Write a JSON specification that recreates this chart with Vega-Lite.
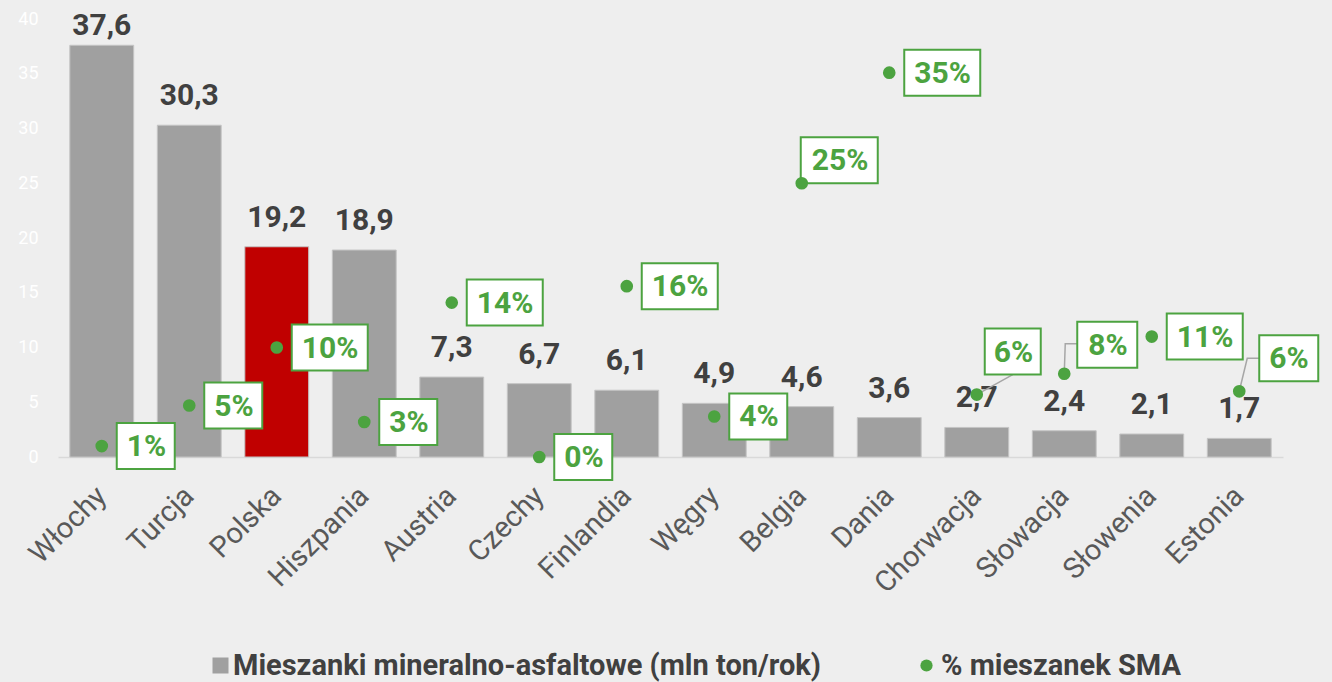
{
  "$schema": "https://vega.github.io/schema/vega-lite/v6.json",
  "width": 1225,
  "height": 438,
  "autosize": {"type": "none"},
  "padding": {"left": 58, "top": 19, "right": 49, "bottom": 225},
  "background": "#eeeeee",
  "config": {
    "view": {"stroke": null},
    "font": "Roboto",
    "locale": {"number": {"decimal": ",", "thousands": " ", "grouping": [3], "currency": ["", " zł"]}}
  },
  "data": {
    "values": [
      {"kraj": "Włochy", "mln": 37.6, "pct": 0.01},
      {"kraj": "Turcja", "mln": 30.3, "pct": 0.047},
      {"kraj": "Polska", "mln": 19.2, "pct": 0.10},
      {"kraj": "Hiszpania", "mln": 18.9, "pct": 0.032},
      {"kraj": "Austria", "mln": 7.3, "pct": 0.141},
      {"kraj": "Czechy", "mln": 6.7, "pct": 0.0},
      {"kraj": "Finlandia", "mln": 6.1, "pct": 0.156},
      {"kraj": "Węgry", "mln": 4.9, "pct": 0.037},
      {"kraj": "Belgia", "mln": 4.6, "pct": 0.25},
      {"kraj": "Dania", "mln": 3.6, "pct": 0.351},
      {"kraj": "Chorwacja", "mln": 2.7, "pct": 0.057},
      {"kraj": "Słowacja", "mln": 2.4, "pct": 0.076},
      {"kraj": "Słowenia", "mln": 2.1, "pct": 0.11},
      {"kraj": "Estonia", "mln": 1.7, "pct": 0.06}
    ]
  },
  "resolve": {"scale": {"y": "independent"}},
  "layer": [
    {
      "encoding": {
        "x": {
          "field": "kraj", "type": "nominal", "sort": null,
          "scale": {"paddingInner": 0.27, "paddingOuter": 0.135},
          "axis": {
            "title": null, "labelAngle": -45, "labelFontSize": 29, "labelColor": "#595959",
            "labelFont": "Roboto", "ticks": false, "domainColor": "#d9d9d9", "domainWidth": 1.5,
            "labelPadding": 24, "labelOffset": -10
          }
        },
        "y": {
          "field": "mln", "type": "quantitative",
          "scale": {"domain": [0, 40]},
          "axis": {
            "title": null, "grid": false, "domain": false, "ticks": false,
            "labelColor": "#ffffff", "labelFontSize": 18, "labelPadding": 20,
            "values": [0, 5, 10, 15, 20, 25, 30, 35, 40]
          }
        }
      },
      "layer": [
        {
          "mark": {"type": "bar", "stroke": "#c4c4c4", "strokeWidth": 1},
          "encoding": {
            "fill": {
              "datum": "Mieszanki mineralno-asfaltowe (mln ton/rok)",
              "condition": {"test": "datum.kraj === 'Polska'", "value": "#C00000"},
              "scale": {
                "domain": ["Mieszanki mineralno-asfaltowe (mln ton/rok)"],
                "range": ["#A0A0A0"]
              },
              "legend": {
                "title": null, "orient": "none", "legendX": 148, "legendY": 632,
                "direction": "horizontal", "labelFontSize": 29, "labelFont": "Roboto",
                "labelFontWeight": "bold", "labelColor": "#404040", "labelLimit": 1000,
                "padding": 0, "labelOffset": -2, "symbolOpacity": 1,
                "symbolType": "square", "symbolSize": 256, "symbolStrokeWidth": 0
              }
            }
          }
        },
        {
          "transform": [{"filter": "datum.kraj !== 'Włochy'"}],
          "mark": {"type": "text", "fontSize": 30, "fontWeight": "bold", "color": "#404040", "baseline": "alphabetic", "dy": -20},
          "encoding": {"text": {"field": "mln", "type": "quantitative", "format": ".1f"}}
        },
        {
          "transform": [{"filter": "datum.kraj === 'Włochy'"}],
          "mark": {"type": "text", "fontSize": 30, "fontWeight": "bold", "color": "#404040", "baseline": "alphabetic", "dy": -10},
          "encoding": {"text": {"field": "mln", "type": "quantitative", "format": ".1f"}}
        }
      ]
    },
    {
      "resolve": {"scale": {"shape": "independent"}},
      "encoding": {
        "x": {"field": "kraj", "type": "nominal", "sort": null},
        "y": {
          "field": "pct", "type": "quantitative",
          "scale": {"domain": [0, 0.4]},
          "axis": null
        }
      },
      "layer": [
        {
          "transform": [{"filter": {"field": "kraj", "oneOf": ["Chorwacja", "Słowacja", "Estonia"]}}],
          "mark": {"type": "point", "filled": false, "stroke": "#A6A6A6", "strokeWidth": 1.5, "size": 4, "opacity": 1},
          "encoding": {
            "shape": {
              "field": "kraj", "type": "nominal", "legend": null,
              "scale": {
                "domain": ["Chorwacja", "Słowacja", "Estonia"],
                "range": ["M0,0L36,-20", "M0,0L1,-30L13,-30", "M0,0L8,-33L20,-33"]
              }
            }
          }
        },
        {
          "mark": {"type": "point", "filled": true, "fill": "#ffffff", "stroke": "#4CA340", "strokeWidth": 2, "size": 4, "opacity": 1},
          "encoding": {
            "shape": {
              "field": "kraj", "type": "nominal", "legend": null,
              "scale": {
                "domain": ["Włochy", "Turcja", "Polska", "Hiszpania", "Austria", "Czechy", "Finlandia", "Węgry", "Belgia", "Dania", "Chorwacja", "Słowacja", "Słowenia", "Estonia"],
                "range": [
                  "M15,-23H73V23H15Z",
                  "M15,-23H73V23H15Z",
                  "M15,-23H91V23H15Z",
                  "M15,-23H73V23H15Z",
                  "M15,-23H91V23H15Z",
                  "M15,-23H73V23H15Z",
                  "M15,-23H91V23H15Z",
                  "M15,-23H73V23H15Z",
                  "M-1,-46H76V0H-1Z",
                  "M15,-23H91V23H15Z",
                  "M8,-66H64V-20H8Z",
                  "M13,-52H73V-6H13Z",
                  "M15,-23H91V23H15Z",
                  "M20,-56H79V-10H20Z"
                ]
              }
            }
          }
        },
        {
          "mark": {"type": "point", "filled": true, "size": 160, "opacity": 1},
          "encoding": {
            "color": {
              "datum": "% mieszanek SMA",
              "scale": {"domain": ["% mieszanek SMA"], "range": ["#4CA340"]},
              "legend": {
                "title": null, "orient": "none", "legendX": 854, "legendY": 632,
                "direction": "horizontal", "labelFontSize": 29, "labelFont": "Roboto",
                "labelFontWeight": "bold", "labelColor": "#404040", "labelLimit": 1000,
                "padding": 0, "labelOffset": 0, "symbolOpacity": 1,
                "symbolType": "circle", "symbolSize": 150, "symbolStrokeWidth": 0
              }
            }
          }
        },
        {
          "transform": [{"filter": {"not": {"field": "kraj", "oneOf": ["Belgia", "Chorwacja", "Słowacja", "Estonia"]}}}],
          "mark": {"type": "text", "align": "left", "baseline": "middle", "dx": 25, "dy": 1, "fontSize": 30, "fontWeight": "bold", "color": "#4CA340"},
          "encoding": {"text": {"field": "pct", "type": "quantitative", "format": ".0%"}}
        },
        {
          "transform": [{"filter": "datum.kraj === 'Belgia'"}],
          "mark": {"type": "text", "align": "left", "baseline": "middle", "dx": 10, "dy": -22, "fontSize": 30, "fontWeight": "bold", "color": "#4CA340"},
          "encoding": {"text": {"field": "pct", "type": "quantitative", "format": ".0%"}}
        },
        {
          "transform": [{"filter": "datum.kraj === 'Chorwacja'"}],
          "mark": {"type": "text", "align": "left", "baseline": "middle", "dx": 17, "dy": -42, "fontSize": 30, "fontWeight": "bold", "color": "#4CA340"},
          "encoding": {"text": {"field": "pct", "type": "quantitative", "format": ".0%"}}
        },
        {
          "transform": [{"filter": "datum.kraj === 'Słowacja'"}],
          "mark": {"type": "text", "align": "left", "baseline": "middle", "dx": 24, "dy": -28, "fontSize": 30, "fontWeight": "bold", "color": "#4CA340"},
          "encoding": {"text": {"field": "pct", "type": "quantitative", "format": ".0%"}}
        },
        {
          "transform": [{"filter": "datum.kraj === 'Estonia'"}],
          "mark": {"type": "text", "align": "left", "baseline": "middle", "dx": 30, "dy": -32, "fontSize": 30, "fontWeight": "bold", "color": "#4CA340"},
          "encoding": {"text": {"field": "pct", "type": "quantitative", "format": ".0%"}}
        }
      ]
    }
  ]
}
